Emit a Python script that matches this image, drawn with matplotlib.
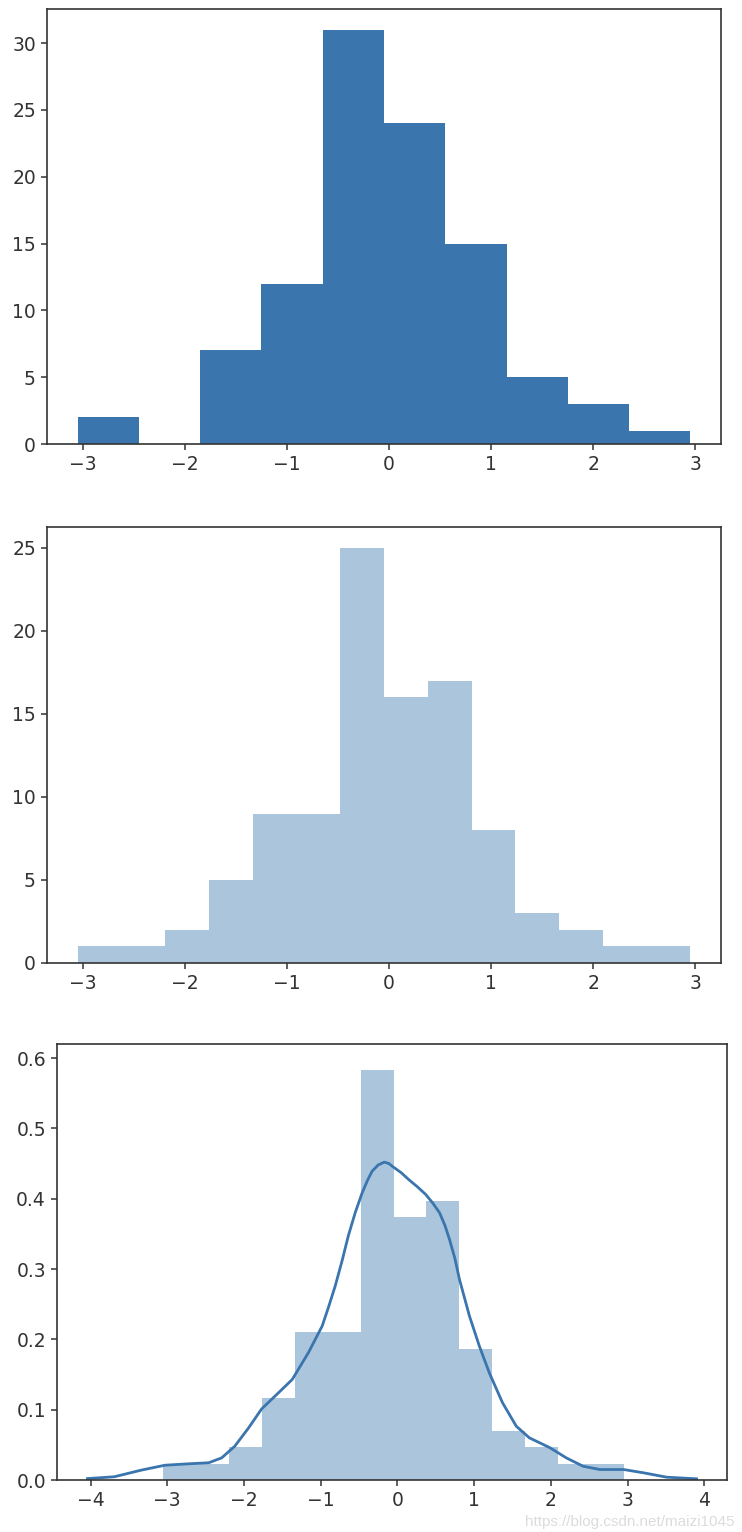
import matplotlib
matplotlib.use("Agg")
import matplotlib.pyplot as plt
import numpy as np

# ── Data ────────────────────────────────────────────────────────
data_min, data_max = -3.05, 2.95
n_samples = 100

counts_10 = [2, 0, 7, 12, 31, 24, 15, 5, 3, 1]
counts_14 = [1, 1, 2, 5, 9, 9, 25, 16, 17, 8, 3, 2, 1, 1]

kde_x = [-4.04, -3.69, -3.34, -3.03, -2.73, -2.46, -2.29, -2.12, -1.94, -1.77,
         -1.55, -1.37, -1.16, -0.98, -0.90, -0.81, -0.72, -0.64, -0.55, -0.46,
         -0.39, -0.33, -0.25, -0.17, -0.11, -0.065, 0.05, 0.15, 0.26, 0.37,
         0.46, 0.55, 0.62, 0.68, 0.75, 0.81, 0.94, 1.07, 1.20, 1.37,
         1.55, 1.72, 1.99, 2.20, 2.42, 2.64, 2.95, 3.21, 3.51, 3.90]
kde_y = [0.002, 0.0046, 0.014, 0.021, 0.023, 0.0245, 0.0315, 0.048, 0.074, 0.101,
         0.124, 0.143, 0.181, 0.219, 0.245, 0.276, 0.312, 0.347, 0.380, 0.408,
         0.426, 0.439, 0.448, 0.452, 0.450, 0.446, 0.437, 0.427, 0.417, 0.406,
         0.394, 0.380, 0.362, 0.342, 0.315, 0.285, 0.233, 0.190, 0.152, 0.110,
         0.0765, 0.060, 0.0458, 0.0316, 0.0196, 0.0149, 0.0149, 0.0102, 0.004, 0.0017]

# ── Style ───────────────────────────────────────────────────────
BLUE = "#3a75ae"
FS = 13.5

plt.rcParams.update({
    "font.family": "DejaVu Sans",
    "axes.linewidth": 1.2,
    "axes.edgecolor": "#333333",
    "xtick.major.size": 4.5,
    "ytick.major.size": 4.5,
    "xtick.major.width": 1.1,
    "ytick.major.width": 1.1,
    "xtick.labelsize": FS,
    "ytick.labelsize": FS,
    "xtick.color": "#333333",
    "ytick.color": "#333333",
})


def hist_from_counts(ax, counts, density=False, **kw):
    edges = np.linspace(data_min, data_max, len(counts) + 1)
    centers = (edges[:-1] + edges[1:]) / 2
    weights = np.asarray(counts, dtype=float)
    if density:
        weights = weights / (n_samples * (edges[1] - edges[0]))
    ax.hist(centers, bins=edges, weights=weights, **kw)


W, H = 742, 1532
fig = plt.figure(figsize=(W / 100, H / 100), dpi=100)


def px_axes(left, top, right, bottom):
    return fig.add_axes([left / W, 1 - bottom / H, (right - left) / W, (bottom - top) / H])


# panel 1 — plain histogram, 10 bins
ax1 = px_axes(47, 9, 721, 444)
hist_from_counts(ax1, counts_10, color=BLUE)

# panel 2 — 14 bins, translucent
ax2 = px_axes(47, 527, 721, 963)
hist_from_counts(ax2, counts_14, color="#2f6eab", alpha=0.4)

# panel 3 — normalised histogram with KDE
ax3 = px_axes(57, 1044, 727, 1480)
hist_from_counts(ax3, counts_14, density=True, color="#2f6eab", alpha=0.4)
ax3.plot(kde_x, kde_y, color=BLUE, linewidth=2.0, solid_joinstyle="round")
ax3.set_xticks(range(-4, 5))
ax3.set_ylim(0, 0.62)

fig.text(0.99, 1 - 1522 / H, "https://blog.csdn.net/maizi1045", ha="right", va="center",
         fontsize=11, color="#dcdcdc", family="Liberation Sans")

fig.savefig("out.png", dpi=100)
